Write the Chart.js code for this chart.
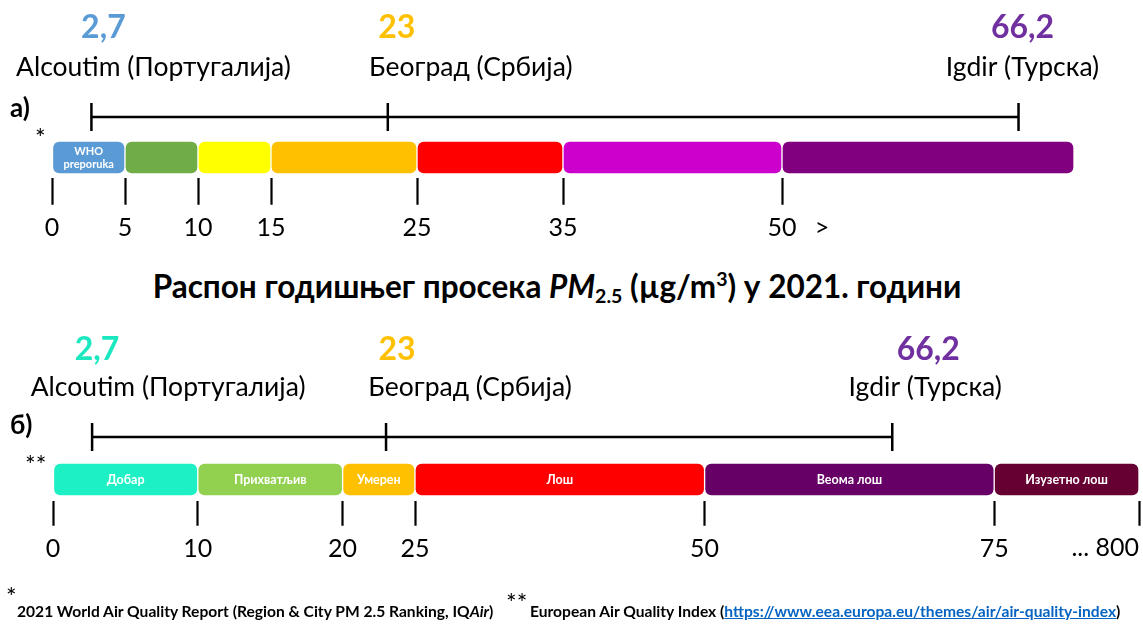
<!DOCTYPE html>
<html><head><meta charset="utf-8">
<script src="https://cdn.jsdelivr.net/npm/chart.js@4.4.1/dist/chart.umd.min.js"></script>
<style>
html,body{margin:0;padding:0;background:#fff;}
body{width:1143px;height:624px;position:relative;overflow:hidden;font-family:Lato,'Noto Sans',sans-serif;color:#000;}
.abs{position:absolute;white-space:nowrap;}
.wrap{position:absolute;left:0;width:1143px;height:250px;}
#title{left:0;width:1114px;text-align:center;top:267px;font-weight:bold;font-size:31.5px;line-height:38px;}
#title sub{font-size:0.62em;vertical-align:-0.28em;line-height:0;}
#title sup{font-size:0.62em;vertical-align:0.6em;line-height:0;}
.foot{font-weight:bold;font-size:15.6px;line-height:18px;}
.foot a{color:#0563C1;text-decoration:underline;}
.ast{font-size:25px;line-height:26px;}
</style>
</head><body>
<div class="wrap" style="top:0"><canvas id="cA"></canvas></div>
<div class="wrap" style="top:320px"><canvas id="cB"></canvas></div>
<div class="abs" style="left:10px;top:92px;font-weight:bold;font-size:26px;line-height:30px">а)</div>
<div class="abs ast" style="left:35px;top:124px">*</div>
<div class="abs" id="title">Распон годишњег просека <i>PM</i><sub>2.5</sub> (µg/m<sup>3</sup>) у 2021. години</div>
<div class="abs" style="left:10px;top:409px;font-weight:bold;font-size:26px;line-height:30px">б)</div>
<div class="abs ast" style="left:25px;top:451px">**</div>
<div class="abs ast" style="left:6px;top:583px">*</div>
<div class="abs foot" style="left:17px;top:602px">2021 World Air Quality Report (Region &amp; City PM 2.5 Ranking, IQ<i>Air</i>)</div>
<div class="abs ast" style="left:506px;top:589px">**</div>
<div class="abs foot" style="left:530px;top:602px">European Air Quality Index (<a>https://www.eea.europa.eu/themes/air/air-quality-index</a>)</div>
<script>
// ---------- DATA ----------
const BANDS_A_START = [0, 5, 10, 15, 25, 35, 50];
const BANDS_A_END   = [5, 10, 15, 25, 35, 50, 70];
const BANDS_A_LABELS = ['WHO\npreporuka', '', '', '', '', '', ''];
const TICKS_A = [0, 5, 10, 15, 25, 35, 50];
const TICK_LABELS_A = ['0', '5', '10', '15', '25', '35', '50'];
const EXTRA_TEXT_A = '>';

const BANDS_B_START = [0, 10, 20, 25, 50, 75];
const BANDS_B_END   = [10, 20, 25, 50, 75, 800];
const BANDS_B_LABELS = ['Добар', 'Прихватљив', 'Умерен', 'Лош', 'Веома лош', 'Изузетно лош'];
const TICKS_B = [0, 10, 20, 25, 50, 75, 800];
const TICK_LABELS_B = ['0', '10', '20', '25', '50', '75', '... 800'];

const CITIES = ['Alcoutim (Португалија)', 'Београд (Србија)', 'Igdir (Турска)'];
const CITY_VALUES = [2.7, 23, 66.2];
const CITY_VALUE_LABELS = ['2,7', '23', '66,2'];

// ---------- STYLE ----------
const COLORS_A = ['#5B9BD5', '#70AD47', '#FFFF00', '#FFC000', '#FF0000', '#CC00CC', '#800080'];
const COLORS_B = ['#1CF0C4', '#92D050', '#FFC000', '#FF0000', '#660066', '#660033'];
const VALUE_COLORS_A = ['#5B9BD5', '#FFC000', '#7030A0'];
const VALUE_COLORS_B = ['#1CE8C0', '#FFC000', '#7030A0'];
const B_SEGMENT_WEIGHTS = [2, 2, 1, 4, 4, 2];   // visual width of each band on axis б
const FONT = "Lato, 'Noto Sans', sans-serif";

// piecewise-linear axis for panel б
class PiecewiseScale extends Chart.LinearScale {
  _frac(value) {
    const bp = TICKS_B, wt = B_SEGMENT_WEIGHTS;
    const total = wt.reduce((a, b) => a + b, 0);
    let acc = 0;
    for (let i = 0; i < wt.length; i++) {
      const a = bp[i], b = bp[i + 1];
      if (value <= b || i === wt.length - 1) {
        return (acc + wt[i] * (value - a) / (b - a)) / total;
      }
      acc += wt[i];
    }
    return 1;
  }
  getPixelForValue(value) { return this.getPixelForDecimal(this._frac(value)); }
  getValueForPixel(pixel) {
    const d = this.getDecimalForPixel(pixel);
    const bp = TICKS_B, wt = B_SEGMENT_WEIGHTS;
    const total = wt.reduce((a, b) => a + b, 0);
    let acc = 0;
    for (let i = 0; i < wt.length; i++) {
      const f0 = acc / total, f1 = (acc + wt[i]) / total;
      if (d <= f1 || i === wt.length - 1) return bp[i] + (d - f0) / (f1 - f0) * (bp[i + 1] - bp[i]);
      acc += wt[i];
    }
    return bp[bp.length - 1];
  }
}
PiecewiseScale.id = 'piecewise';
PiecewiseScale.defaults = {};
Chart.register(PiecewiseScale);

function makeAnnot(cfg) {
  return {
    id: 'annot',
    afterDatasetsDraw(chart) {
      const ctx = chart.ctx;
      ctx.save();
      ctx.textAlign = 'center';
      ctx.textBaseline = 'middle';
      // labels inside the bands
      ctx.fillStyle = '#fff';
      ctx.font = 'bold ' + cfg.bandFont + 'px ' + FONT;
      chart.getDatasetMeta(0).data.forEach((el, i) => {
        const txt = cfg.bandLabels[i];
        if (!txt) return;
        const p = el.getProps(['x', 'base', 'y'], true);
        const cx = (p.x + p.base) / 2;
        const lines = txt.split('\n');
        lines.forEach((ln, k) => ctx.fillText(ln, cx, p.y + (k - (lines.length - 1) / 2) * cfg.bandLineH));
      });
      // values and city names above the range markers
      const top = chart.chartArea.top;
      chart.getDatasetMeta(1).data.forEach((pt, i) => {
        ctx.font = 'bold 32px ' + FONT;
        ctx.fillStyle = cfg.valueColors[i];
        ctx.fillText(CITY_VALUE_LABELS[i], pt.x + cfg.valueDx[i], top + cfg.valueDy);
        ctx.font = '26.5px ' + FONT;
        ctx.fillStyle = '#000';
        ctx.fillText(CITIES[i], pt.x + cfg.nameDx[i], top + cfg.nameDy);
      });
      // extra axis text
      const xs = chart.scales.x;
      ctx.font = '25px ' + FONT;
      ctx.fillStyle = '#000';
      cfg.extra.forEach(e => {
        ctx.textAlign = e.align;
        ctx.fillText(e.text, xs.getPixelForValue(e.value) + e.dx, xs.top + cfg.tickTextDy);
      });
      ctx.restore();
    }
  };
}

function makeChart(id, o) {
  return new Chart(document.getElementById(id), {
    type: 'bar',
    data: {
      labels: ['range', 'bands'],
      datasets: [
        {
          type: 'bar',
          data: o.starts.map((s, i) => ({ x: [s, o.ends[i]], y: 'bands' })),
          backgroundColor: o.colors,
          borderColor: 'rgba(255,255,255,0.9)',
          borderWidth: 1,
          borderRadius: 7,
          borderSkipped: false,
          barThickness: 33
        },
        {
          type: 'line',
          data: CITY_VALUES.map(v => ({ x: v, y: 'range' })),
          borderColor: '#000',
          borderWidth: 2.5,
          tension: 0,
          fill: false,
          pointStyle: 'line',
          pointRotation: 90,
          pointRadius: 14,
          pointBorderWidth: 2.5,
          pointBorderColor: '#000',
          pointBackgroundColor: '#000',
          clip: false
        }
      ]
    },
    options: {
      indexAxis: 'y',
      responsive: true,
      maintainAspectRatio: false,
      animation: false,
      events: [],
      layout: { padding: o.padding, autoPadding: false },
      plugins: { legend: { display: false }, tooltip: { enabled: false } },
      scales: {
        x: {
          type: o.xType, min: 0, max: o.xMax,
          afterBuildTicks: s => { s.ticks = o.ticks.map(v => ({ value: v })); },
          afterFit: s => { s.height = o.axisH; s.paddingLeft = 0; s.paddingRight = 0; },
          grid: { display: true, drawOnChartArea: false, drawTicks: true, tickLength: o.tickLen, tickWidth: 2.2, tickColor: '#000' },
          border: { display: false },
          ticks: {
            autoSkip: false, maxRotation: 0, minRotation: 0, padding: o.tickPad, color: '#000',
            font: { family: FONT, size: 25 },
            callback: (v, i) => o.tickLabel(i)
          }
        },
        y: { type: 'category', display: false }
      }
    },
    plugins: [makeAnnot(o.annot)]
  });
}

makeChart('cA', {
  starts: BANDS_A_START, ends: BANDS_A_END, colors: COLORS_A,
  xType: 'linear', xMax: 74, ticks: TICKS_A,
  tickLabel: i => TICK_LABELS_A[i],
  padding: { left: 52, right: 10.6, top: 96.75, bottom: 0 },
  axisH: 72.25, tickLen: 27, tickPad: 8,
  annot: {
    bandLabels: BANDS_A_LABELS, bandFont: 11, bandLineH: 13,
    valueColors: VALUE_COLORS_A, valueDx: [12, 9, 4], valueDy: -69, nameDx: [62, 83, 4], nameDy: -29,
    extra: [{ value: 50, text: EXTRA_TEXT_A, dx: 40, align: 'center' }], tickTextDy: 50
  }
});

makeChart('cB', {
  starts: BANDS_B_START, ends: BANDS_B_END, colors: COLORS_B,
  xType: 'piecewise', xMax: 800, ticks: TICKS_B,
  tickLabel: i => (i === TICKS_B.length - 1 ? '' : TICK_LABELS_B[i]),
  padding: { left: 53, right: 4, top: 95.75, bottom: 0 },
  axisH: 69.25, tickLen: 25, tickPad: 8,
  annot: {
    bandLabels: BANDS_B_LABELS, bandFont: 12.5, bandLineH: 13,
    valueColors: VALUE_COLORS_B, valueDx: [5, 11, 36], valueDy: -66, nameDx: [76, 84, 33], nameDy: -28,
    extra: [{ value: 800, text: TICK_LABELS_B[TICK_LABELS_B.length - 1], dx: 0, align: 'right' }], tickTextDy: 47
  }
});
</script>
</body></html>
